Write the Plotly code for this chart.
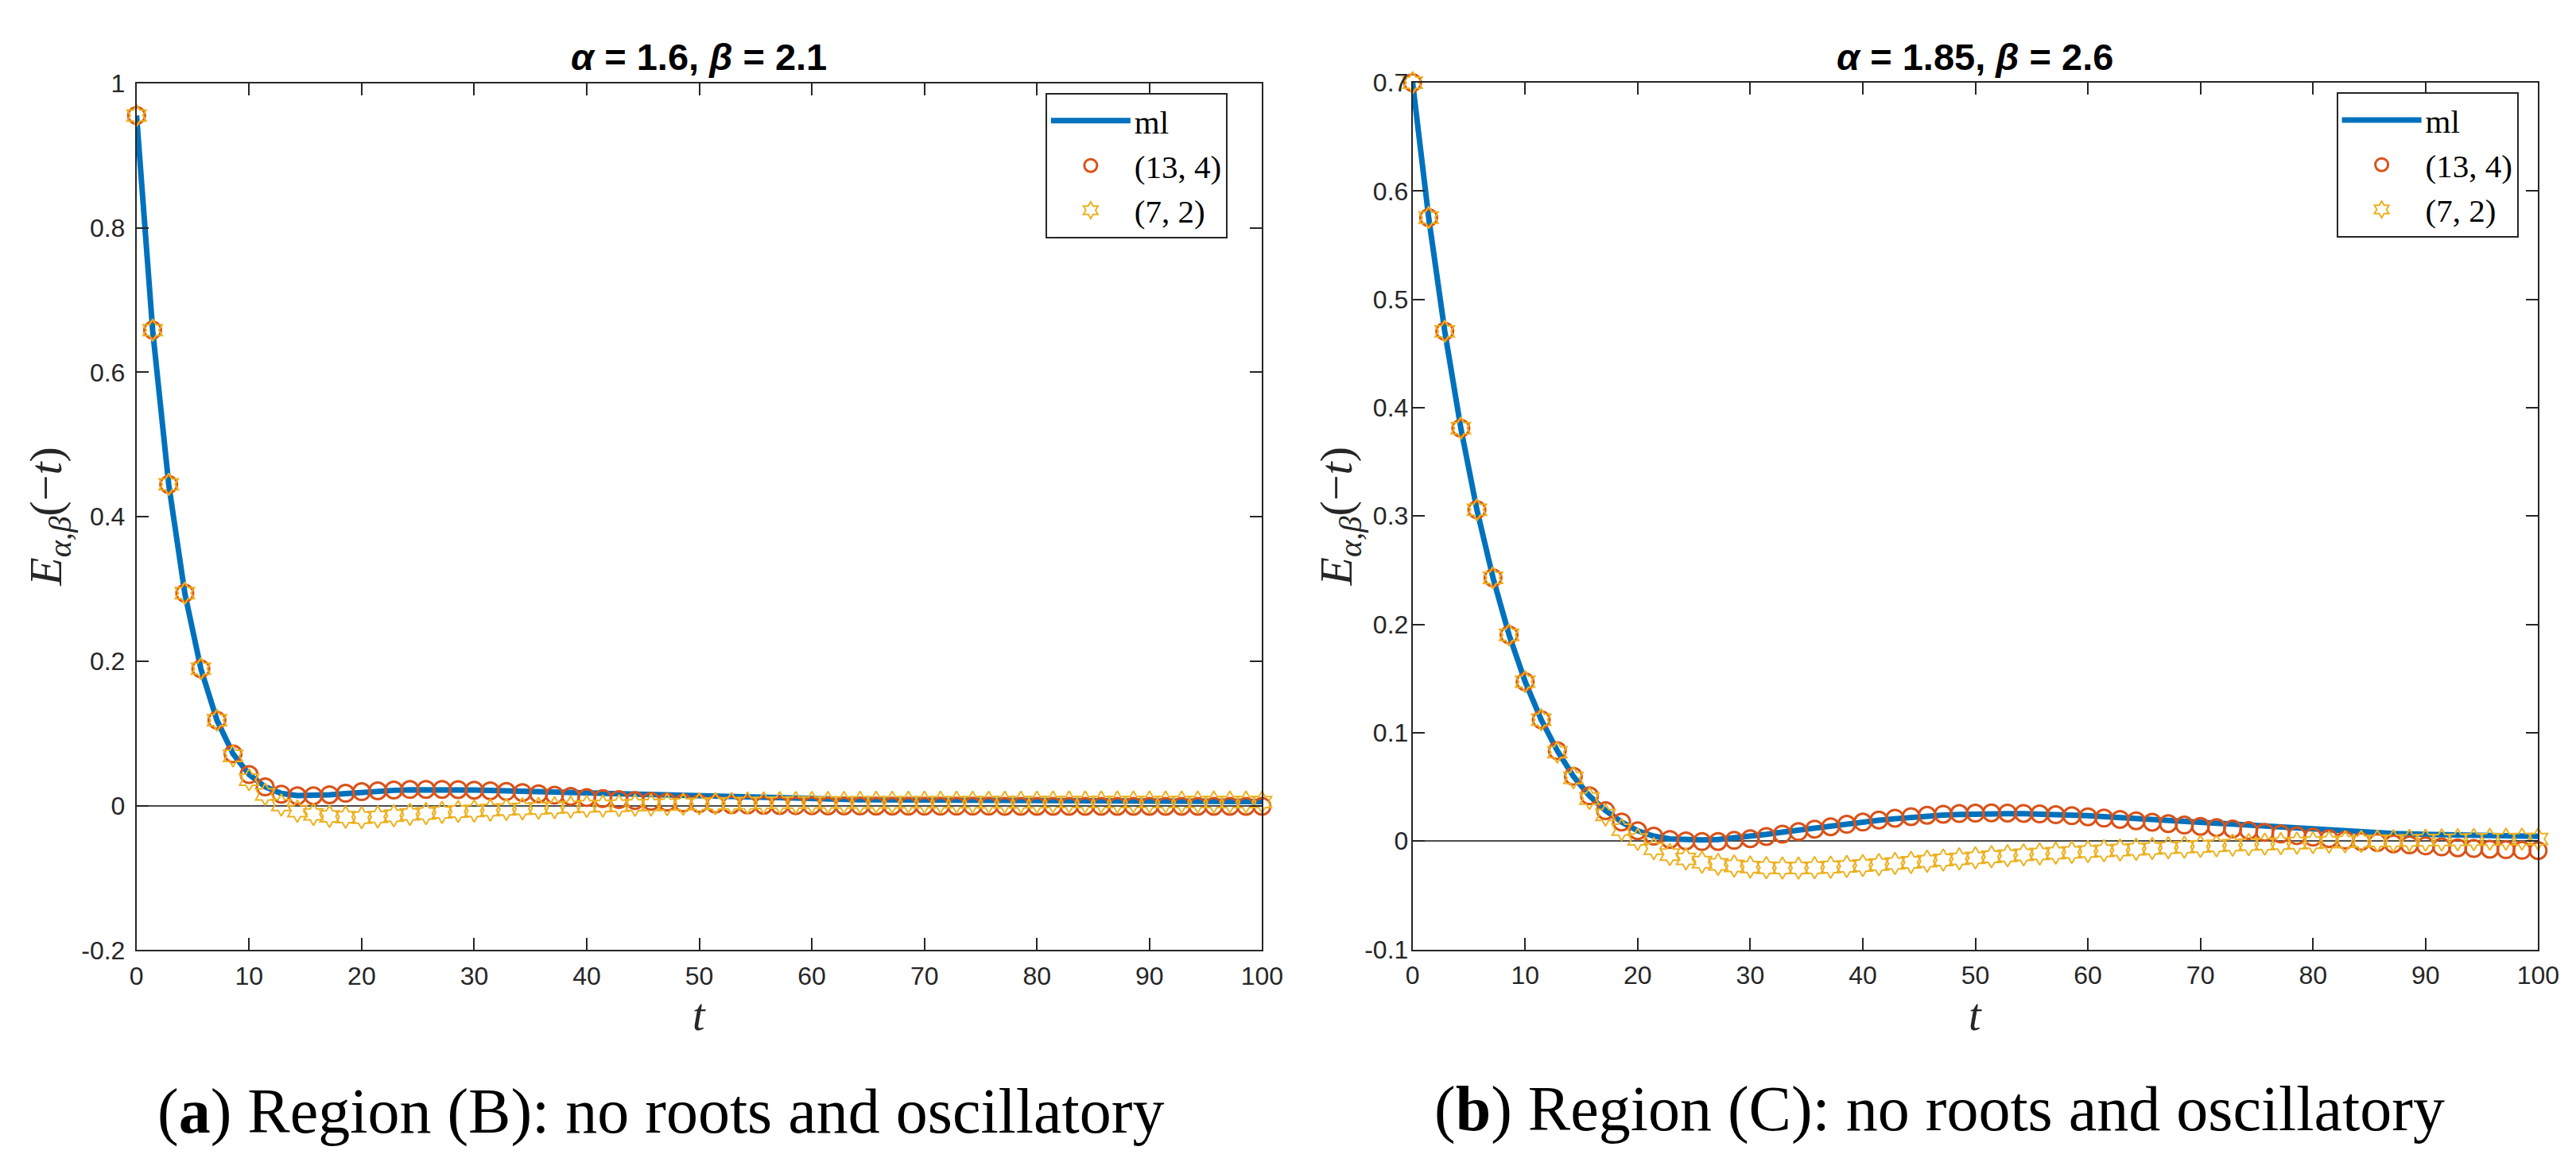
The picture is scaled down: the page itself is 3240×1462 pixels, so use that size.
import plotly.graph_objects as go

# ---------------- data ----------------
N_PTS = 71
t = [k * 100 / 70 for k in range(N_PTS)]

# Left panel: alpha = 1.6, beta = 2.1
ml_left = [0.9556, 0.6585, 0.4449, 0.2943, 0.1896, 0.1184, 0.0719, 0.0431, 0.0262, 0.0170,
           0.0140, 0.0140, 0.0152, 0.0168, 0.0186, 0.0202, 0.0213, 0.0220, 0.0223, 0.0223,
           0.0221, 0.0217, 0.0212, 0.0206, 0.0200, 0.0195, 0.0190, 0.0184, 0.0176, 0.0170,
           0.0163, 0.0157, 0.0151, 0.0145, 0.0137, 0.0130, 0.0123, 0.0116, 0.0109, 0.0102,
           0.0096, 0.0092, 0.0089, 0.0087, 0.0085, 0.0083, 0.0082, 0.0081, 0.0080, 0.0079,
           0.0078, 0.0077, 0.0076, 0.0075, 0.0074, 0.0073, 0.0072, 0.0071, 0.0070, 0.0069,
           0.0068, 0.0067, 0.0066, 0.0065, 0.0064, 0.0063, 0.0062, 0.0061, 0.0060, 0.0058,
           0.0057]
pade134_left = [0.9556, 0.6585, 0.4449, 0.2943, 0.1896, 0.1184, 0.0719, 0.0431, 0.0260, 0.0160,
                0.0137, 0.0138, 0.0152, 0.0172, 0.0195, 0.0207, 0.0218, 0.0225, 0.0226, 0.0226,
                0.0223, 0.0215, 0.0207, 0.0197, 0.0182, 0.0165, 0.0147, 0.0129, 0.0114, 0.0100,
                0.0086, 0.0072, 0.0061, 0.0050, 0.0038, 0.0029, 0.0021, 0.0014, 0.0010, 0.0006,
                0.0003, 0.0001, 0.0000, -0.0002, -0.0003, -0.0004, -0.0005, -0.0005, -0.0006, -0.0006,
                -0.0007, -0.0007, -0.0007, -0.0007, -0.0008, -0.0008, -0.0008, -0.0008, -0.0008, -0.0008,
                -0.0008, -0.0008, -0.0008, -0.0008, -0.0008, -0.0008, -0.0008, -0.0008, -0.0008, -0.0008,
                -0.0008]
pade72_left = [0.9556, 0.6585, 0.4449, 0.2943, 0.1896, 0.1184, 0.0690, 0.0360, 0.0157, 0.0010,
               -0.0075, -0.0120, -0.0148, -0.0158, -0.0165, -0.0155, -0.0138, -0.0120, -0.0108, -0.0093,
               -0.0080, -0.0072, -0.0061, -0.0051, -0.0043, -0.0036, -0.0026, -0.0018, -0.0009, -0.0004,
               0.0000, 0.0006, 0.0010, 0.0015, 0.0020, 0.0025, 0.0029, 0.0033, 0.0036, 0.0039,
               0.0042, 0.0044, 0.0045, 0.0046, 0.0046, 0.0047, 0.0047, 0.0047, 0.0048, 0.0048,
               0.0048, 0.0048, 0.0049, 0.0049, 0.0049, 0.0049, 0.0049, 0.0050, 0.0050, 0.0050,
               0.0050, 0.0050, 0.0050, 0.0050, 0.0050, 0.0050, 0.0050, 0.0050, 0.0050, 0.0050,
               0.0050]

# Right panel: alpha = 1.85, beta = 2.6
ml_right = [0.7000, 0.5755, 0.4705, 0.3811, 0.3058, 0.2430, 0.1903, 0.1471, 0.1120, 0.0834,
            0.0598, 0.0417, 0.0281, 0.0176, 0.0095, 0.0045, 0.0020, 0.0012, 0.0010, 0.0015,
            0.0027, 0.0043, 0.0062, 0.0082, 0.0102, 0.0122, 0.0141, 0.0160, 0.0177, 0.0192,
            0.0206, 0.0219, 0.0230, 0.0239, 0.0245, 0.0250, 0.0252, 0.0253, 0.0252, 0.0250,
            0.0246, 0.0241, 0.0234, 0.0226, 0.0217, 0.0208, 0.0198, 0.0188, 0.0178, 0.0168,
            0.0158, 0.0150, 0.0140, 0.0130, 0.0120, 0.0112, 0.0104, 0.0096, 0.0088, 0.0082,
            0.0076, 0.0070, 0.0065, 0.0061, 0.0058, 0.0055, 0.0052, 0.0050, 0.0047, 0.0045,
            0.0043]
pade134_right = [0.7000, 0.5755, 0.4705, 0.3811, 0.3058, 0.2430, 0.1903, 0.1471, 0.1120, 0.0834,
                 0.0598, 0.0417, 0.0281, 0.0176, 0.0095, 0.0045, 0.0015, 0.0002, -0.0005, -0.0004,
                 0.0006, 0.0022, 0.0042, 0.0064, 0.0087, 0.0110, 0.0132, 0.0155, 0.0175, 0.0194,
                 0.0211, 0.0226, 0.0238, 0.0248, 0.0254, 0.0258, 0.0260, 0.0259, 0.0255, 0.0250,
                 0.0243, 0.0234, 0.0224, 0.0212, 0.0200, 0.0187, 0.0174, 0.0161, 0.0148, 0.0136,
                 0.0125, 0.0112, 0.0097, 0.0081, 0.0065, 0.0050, 0.0036, 0.0022, 0.0008, -0.0004,
                 -0.0014, -0.0026, -0.0036, -0.0045, -0.0054, -0.0062, -0.0069, -0.0075, -0.0080, -0.0085,
                 -0.0088]
pade72_right = [0.7000, 0.5755, 0.4705, 0.3811, 0.3058, 0.2430, 0.1903, 0.1471, 0.1120, 0.0820,
                0.0583, 0.0392, 0.0241, 0.0105, 0.0015, -0.0070, -0.0125, -0.0165, -0.0195, -0.0215,
                -0.0230, -0.0240, -0.0246, -0.0249, -0.0249, -0.0246, -0.0241, -0.0234, -0.0226, -0.0217,
                -0.0207, -0.0197, -0.0186, -0.0175, -0.0165, -0.0155, -0.0145, -0.0136, -0.0127, -0.0119,
                -0.0111, -0.0104, -0.0097, -0.0090, -0.0083, -0.0076, -0.0069, -0.0062, -0.0056, -0.0050,
                -0.0044, -0.0038, -0.0033, -0.0028, -0.0023, -0.0019, -0.0015, -0.0011, -0.0007, -0.0003,
                0.0000, 0.0003, 0.0006, 0.0008, 0.0010, 0.0012, 0.0014, 0.0016, 0.0017, 0.0018,
                0.0019]

x_ticks = [0, 10, 20, 30, 40, 50, 60, 70, 80, 90, 100]
y_ticks_left = [-0.2, 0, 0.2, 0.4, 0.6, 0.8, 1]
y_ticklabels_left = ["-0.2", "0", "0.2", "0.4", "0.6", "0.8", "1"]
y_ticks_right = [-0.1, 0, 0.1, 0.2, 0.3, 0.4, 0.5, 0.6, 0.7]
y_ticklabels_right = ["-0.1", "0", "0.1", "0.2", "0.3", "0.4", "0.5", "0.6", "0.7"]

titles = ["<b><i>α</i> = 1.6, <i>β</i> = 2.1</b>", "<b><i>α</i> = 1.85, <i>β</i> = 2.6</b>"]
captions = ["(<b>a</b>) Region (B): no roots and oscillatory",
            "(<b>b</b>) Region (C): no roots and oscillatory"]
series_names = ["ml", "(13, 4)", "(7, 2)"]

# ---------------- style ----------------
W, H = 3240, 1462
BLUE, ORANGE, YELLOW = "#0072BD", "#D95319", "#EDB120"
AX = "#262626"
SANS = "Liberation Sans, Arial, sans-serif"
SERIF = "Liberation Serif, Times New Roman, serif"

def px_x(p):
    return p / W

def px_y(p):
    return 1 - p / H

fig = go.Figure()

panels = [
    (ml_left, pade134_left, pade72_left, "x", "y", "legend"),
    (ml_right, pade134_right, pade72_right, "x2", "y2", "legend2"),
]
for ml, p134, p72, xa, ya, lg in panels:
    fig.add_trace(go.Scatter(x=t, y=ml, mode="lines", name=series_names[0],
                             line=dict(color=BLUE, width=7), xaxis=xa, yaxis=ya, legend=lg))
    fig.add_trace(go.Scatter(x=t, y=p134, mode="markers", name=series_names[1], cliponaxis=False,
                             marker=dict(symbol="circle-open", size=21, color=ORANGE,
                                         line=dict(color=ORANGE, width=3)),
                             xaxis=xa, yaxis=ya, legend=lg))
    fig.add_trace(go.Scatter(x=t, y=p72, mode="markers", name=series_names[2], cliponaxis=False,
                             marker=dict(symbol="hexagram-open", size=21, color=YELLOW,
                                         line=dict(color=YELLOW, width=2)),
                             xaxis=xa, yaxis=ya, legend=lg))

common_axis = dict(showline=True, linecolor=AX, linewidth=2, mirror="ticks",
                   ticks="inside", ticklen=15, tickwidth=2, tickcolor=AX,
                   showgrid=False, tickfont=dict(family=SANS, size=32, color=AX))

legend_style = dict(xanchor="right", yanchor="top", bgcolor="white", bordercolor=AX,
                    borderwidth=2, font=dict(family=SERIF, size=41, color="black"),
                    itemwidth=100, tracegroupgap=0, itemsizing="trace")

fig.update_layout(
    width=W, height=H,
    margin=dict(l=0, r=0, t=0, b=0),
    paper_bgcolor="white", plot_bgcolor="white",
    xaxis=dict(domain=[px_x(156.5), px_x(1588)], range=[0, 100], tickvals=x_ticks,
               zeroline=False, ticklabelstandoff=3, anchor="y", **common_axis),
    yaxis=dict(domain=[px_y(1199), px_y(81)], range=[-0.2, 1], tickvals=y_ticks_left,
               ticktext=y_ticklabels_left, zeroline=True, zerolinecolor="#4d4d4d",
               zerolinewidth=2, ticklabelstandoff=6, anchor="x", **common_axis),
    xaxis2=dict(domain=[px_x(1779.5), px_x(3211)], range=[0, 100], tickvals=x_ticks,
                zeroline=False, ticklabelstandoff=3, anchor="y2", **common_axis),
    yaxis2=dict(domain=[px_y(1198), px_y(80)], range=[-0.1, 0.7], tickvals=y_ticks_right,
                ticktext=y_ticklabels_right, zeroline=True, zerolinecolor="#4d4d4d",
                zerolinewidth=2, ticklabelstandoff=-3, anchor="x2", **common_axis),
    legend=dict(x=px_x(1544), y=px_y(93), **legend_style),
    legend2=dict(x=px_x(3186), y=px_y(92), **legend_style),
    showlegend=True,
)

ann = []
# titles
for cx, txt in zip([872, 2495], titles):
    ann.append(dict(x=px_x(cx), y=px_y(47), xref="paper", yref="paper", text=txt,
                    showarrow=False, xanchor="center", yanchor="middle",
                    font=dict(family=SANS, size=47, color="black")))
# x axis titles
for cx in [872, 2495]:
    ann.append(dict(x=px_x(cx), y=px_y(1283), xref="paper", yref="paper", text="<i>t</i>",
                    showarrow=False, xanchor="center", yanchor="middle",
                    font=dict(family=SERIF, size=56, color=AX)))
# y axis titles
for cx, cy in [(45, 640), (1686, 639)]:
    ann.append(dict(x=px_x(cx), y=px_y(cy), xref="paper", yref="paper",
                    text="<i>E</i><sub><i>α,β</i></sub>(−<i>t</i>)", textangle=-90,
                    showarrow=False, xanchor="center", yanchor="middle",
                    font=dict(family=SERIF, size=58, color=AX)))
# captions
for cx, cy, txt in zip([823, 2450], [1407, 1404], captions):
    ann.append(dict(x=px_x(cx), y=px_y(cy), xref="paper", yref="paper", text=txt,
                    showarrow=False, xanchor="center", yanchor="middle",
                    font=dict(family=SERIF, size=80, color="black")))
fig.update_layout(annotations=ann)

fig.write_html("out.html")
